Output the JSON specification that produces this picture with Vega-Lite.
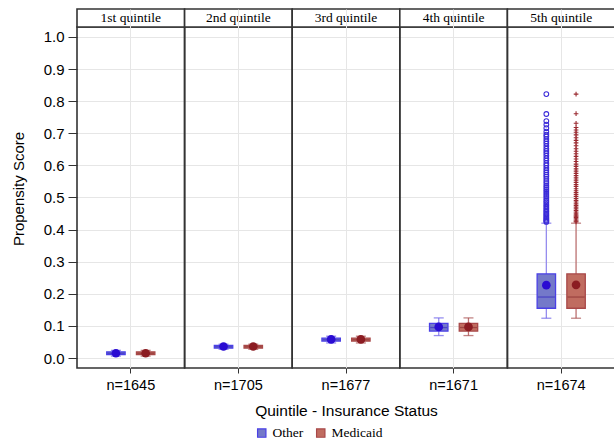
{
  "$schema": "https://vega.github.io/schema/vega-lite/v6.json",
  "width": 538,
  "height": 359,
  "autosize": {"type": "none"},
  "padding": {"left": 77, "top": 9, "right": 0, "bottom": 71},
  "background": "white",
  "config": {
    "view": {"stroke": null},
    "axis": {"labelFont": "Liberation Sans", "titleFont": "Liberation Sans", "labelColor": "#000", "titleColor": "#000", "titleFontWeight": "normal"},
    "axisY": {"title": "Propensity Score", "titleFontSize": 15, "titlePadding": 17, "values": [0, 0.1, 0.2, 0.3, 0.4, 0.5, 0.6, 0.7, 0.8, 0.9, 1.0], "format": ".1f", "labelFontSize": 15, "labelPadding": 4, "tickSize": 9, "tickColor": "#333", "domain": false, "grid": true, "gridColor": "#e6e6e6"},
    "legend": {"labelFont": "Liberation Serif", "labelFontSize": 13.5, "labelColor": "#000"}
  },
  "datasets": {
    "panels": [
      {"panel": "n=1645", "quintile": "1st quintile"},
      {"panel": "n=1705", "quintile": "2nd quintile"},
      {"panel": "n=1677", "quintile": "3rd quintile"},
      {"panel": "n=1671", "quintile": "4th quintile"},
      {"panel": "n=1674", "quintile": "5th quintile"}
    ],
    "boxes": [
      {"panel": "n=1645", "group": "Other", "lower": 0.006, "q1": 0.011, "median": 0.015, "q3": 0.019, "upper": 0.024, "mean": 0.015},
      {"panel": "n=1645", "group": "Medicaid", "lower": 0.006, "q1": 0.011, "median": 0.015, "q3": 0.019, "upper": 0.024, "mean": 0.015},
      {"panel": "n=1705", "group": "Other", "lower": 0.027, "q1": 0.031, "median": 0.035, "q3": 0.039, "upper": 0.043, "mean": 0.036},
      {"panel": "n=1705", "group": "Medicaid", "lower": 0.027, "q1": 0.031, "median": 0.035, "q3": 0.039, "upper": 0.043, "mean": 0.036},
      {"panel": "n=1677", "group": "Other", "lower": 0.047, "q1": 0.053, "median": 0.057, "q3": 0.062, "upper": 0.068, "mean": 0.058},
      {"panel": "n=1677", "group": "Medicaid", "lower": 0.047, "q1": 0.053, "median": 0.057, "q3": 0.062, "upper": 0.068, "mean": 0.058},
      {"panel": "n=1671", "group": "Other", "lower": 0.07, "q1": 0.084, "median": 0.095, "q3": 0.108, "upper": 0.125, "mean": 0.097},
      {"panel": "n=1671", "group": "Medicaid", "lower": 0.07, "q1": 0.084, "median": 0.095, "q3": 0.108, "upper": 0.125, "mean": 0.097},
      {"panel": "n=1674", "group": "Other", "lower": 0.124, "q1": 0.155, "median": 0.19, "q3": 0.262, "upper": 0.42, "mean": 0.227},
      {"panel": "n=1674", "group": "Medicaid", "lower": 0.124, "q1": 0.155, "median": 0.19, "q3": 0.262, "upper": 0.42, "mean": 0.228}
    ],
    "outliers": [
      {"panel": "n=1674", "group": "Other", "value": 0.822},
      {"panel": "n=1674", "group": "Other", "value": 0.760},
      {"panel": "n=1674", "group": "Other", "value": 0.738},
      {"panel": "n=1674", "group": "Other", "value": 0.727},
      {"panel": "n=1674", "group": "Other", "value": 0.716},
      {"panel": "n=1674", "group": "Other", "value": 0.705},
      {"panel": "n=1674", "group": "Other", "value": 0.696},
      {"panel": "n=1674", "group": "Other", "value": 0.690},
      {"panel": "n=1674", "group": "Other", "value": 0.682},
      {"panel": "n=1674", "group": "Other", "value": 0.675},
      {"panel": "n=1674", "group": "Other", "value": 0.668},
      {"panel": "n=1674", "group": "Other", "value": 0.660},
      {"panel": "n=1674", "group": "Other", "value": 0.652},
      {"panel": "n=1674", "group": "Other", "value": 0.645},
      {"panel": "n=1674", "group": "Other", "value": 0.638},
      {"panel": "n=1674", "group": "Other", "value": 0.630},
      {"panel": "n=1674", "group": "Other", "value": 0.622},
      {"panel": "n=1674", "group": "Other", "value": 0.615},
      {"panel": "n=1674", "group": "Other", "value": 0.607},
      {"panel": "n=1674", "group": "Other", "value": 0.600},
      {"panel": "n=1674", "group": "Other", "value": 0.592},
      {"panel": "n=1674", "group": "Other", "value": 0.585},
      {"panel": "n=1674", "group": "Other", "value": 0.578},
      {"panel": "n=1674", "group": "Other", "value": 0.571},
      {"panel": "n=1674", "group": "Other", "value": 0.565},
      {"panel": "n=1674", "group": "Other", "value": 0.558},
      {"panel": "n=1674", "group": "Other", "value": 0.551},
      {"panel": "n=1674", "group": "Other", "value": 0.545},
      {"panel": "n=1674", "group": "Other", "value": 0.538},
      {"panel": "n=1674", "group": "Other", "value": 0.532},
      {"panel": "n=1674", "group": "Other", "value": 0.526},
      {"panel": "n=1674", "group": "Other", "value": 0.520},
      {"panel": "n=1674", "group": "Other", "value": 0.514},
      {"panel": "n=1674", "group": "Other", "value": 0.508},
      {"panel": "n=1674", "group": "Other", "value": 0.502},
      {"panel": "n=1674", "group": "Other", "value": 0.496},
      {"panel": "n=1674", "group": "Other", "value": 0.490},
      {"panel": "n=1674", "group": "Other", "value": 0.485},
      {"panel": "n=1674", "group": "Other", "value": 0.479},
      {"panel": "n=1674", "group": "Other", "value": 0.474},
      {"panel": "n=1674", "group": "Other", "value": 0.469},
      {"panel": "n=1674", "group": "Other", "value": 0.464},
      {"panel": "n=1674", "group": "Other", "value": 0.459},
      {"panel": "n=1674", "group": "Other", "value": 0.455},
      {"panel": "n=1674", "group": "Other", "value": 0.450},
      {"panel": "n=1674", "group": "Other", "value": 0.446},
      {"panel": "n=1674", "group": "Other", "value": 0.442},
      {"panel": "n=1674", "group": "Other", "value": 0.438},
      {"panel": "n=1674", "group": "Other", "value": 0.434},
      {"panel": "n=1674", "group": "Other", "value": 0.430},
      {"panel": "n=1674", "group": "Other", "value": 0.427},
      {"panel": "n=1674", "group": "Other", "value": 0.424},
      {"panel": "n=1674", "group": "Medicaid", "value": 0.822},
      {"panel": "n=1674", "group": "Medicaid", "value": 0.761},
      {"panel": "n=1674", "group": "Medicaid", "value": 0.731},
      {"panel": "n=1674", "group": "Medicaid", "value": 0.718},
      {"panel": "n=1674", "group": "Medicaid", "value": 0.710},
      {"panel": "n=1674", "group": "Medicaid", "value": 0.703},
      {"panel": "n=1674", "group": "Medicaid", "value": 0.695},
      {"panel": "n=1674", "group": "Medicaid", "value": 0.686},
      {"panel": "n=1674", "group": "Medicaid", "value": 0.678},
      {"panel": "n=1674", "group": "Medicaid", "value": 0.670},
      {"panel": "n=1674", "group": "Medicaid", "value": 0.661},
      {"panel": "n=1674", "group": "Medicaid", "value": 0.652},
      {"panel": "n=1674", "group": "Medicaid", "value": 0.644},
      {"panel": "n=1674", "group": "Medicaid", "value": 0.636},
      {"panel": "n=1674", "group": "Medicaid", "value": 0.628},
      {"panel": "n=1674", "group": "Medicaid", "value": 0.620},
      {"panel": "n=1674", "group": "Medicaid", "value": 0.612},
      {"panel": "n=1674", "group": "Medicaid", "value": 0.604},
      {"panel": "n=1674", "group": "Medicaid", "value": 0.597},
      {"panel": "n=1674", "group": "Medicaid", "value": 0.589},
      {"panel": "n=1674", "group": "Medicaid", "value": 0.582},
      {"panel": "n=1674", "group": "Medicaid", "value": 0.575},
      {"panel": "n=1674", "group": "Medicaid", "value": 0.568},
      {"panel": "n=1674", "group": "Medicaid", "value": 0.561},
      {"panel": "n=1674", "group": "Medicaid", "value": 0.554},
      {"panel": "n=1674", "group": "Medicaid", "value": 0.547},
      {"panel": "n=1674", "group": "Medicaid", "value": 0.540},
      {"panel": "n=1674", "group": "Medicaid", "value": 0.534},
      {"panel": "n=1674", "group": "Medicaid", "value": 0.527},
      {"panel": "n=1674", "group": "Medicaid", "value": 0.521},
      {"panel": "n=1674", "group": "Medicaid", "value": 0.515},
      {"panel": "n=1674", "group": "Medicaid", "value": 0.509},
      {"panel": "n=1674", "group": "Medicaid", "value": 0.503},
      {"panel": "n=1674", "group": "Medicaid", "value": 0.497},
      {"panel": "n=1674", "group": "Medicaid", "value": 0.491},
      {"panel": "n=1674", "group": "Medicaid", "value": 0.486},
      {"panel": "n=1674", "group": "Medicaid", "value": 0.480},
      {"panel": "n=1674", "group": "Medicaid", "value": 0.475},
      {"panel": "n=1674", "group": "Medicaid", "value": 0.470},
      {"panel": "n=1674", "group": "Medicaid", "value": 0.465},
      {"panel": "n=1674", "group": "Medicaid", "value": 0.460},
      {"panel": "n=1674", "group": "Medicaid", "value": 0.455},
      {"panel": "n=1674", "group": "Medicaid", "value": 0.451},
      {"panel": "n=1674", "group": "Medicaid", "value": 0.446},
      {"panel": "n=1674", "group": "Medicaid", "value": 0.442},
      {"panel": "n=1674", "group": "Medicaid", "value": 0.438},
      {"panel": "n=1674", "group": "Medicaid", "value": 0.434},
      {"panel": "n=1674", "group": "Medicaid", "value": 0.430},
      {"panel": "n=1674", "group": "Medicaid", "value": 0.427},
      {"panel": "n=1674", "group": "Medicaid", "value": 0.424}
    ]
  },
  "encoding": {
    "x": {
      "field": "panel", "type": "nominal",
      "sort": ["n=1645", "n=1705", "n=1677", "n=1671", "n=1674"],
      "scale": {"domain": ["n=1645", "n=1705", "n=1677", "n=1671", "n=1674"], "paddingInner": 0, "paddingOuter": 0},
      "axis": {
        "title": "Quintile - Insurance Status", "titleFontSize": 15.5, "titlePadding": 12,
        "labelAngle": 0, "labelFontSize": 14.5, "labelPadding": 5,
        "domain": false, "ticks": true, "tickSize": 5, "tickColor": "#333",
        "grid": true, "gridColor": "#e6e6e6", "gridWidth": 1
      }
    }
  },
  "layer": [
    {
      "data": {"name": "panels"},
      "mark": {"type": "rect", "fill": null, "stroke": "#333", "strokeWidth": 1.6},
      "encoding": {
        "y": {"datum": -0.031, "type": "quantitative", "scale": {"domain": [-0.031, 1.087], "nice": false, "zero": false}, "title": "Propensity Score"},
        "y2": {"datum": 1.031}
      }
    },
    {
      "data": {"name": "panels"},
      "mark": {"type": "rect", "fill": "white", "stroke": "#333", "strokeWidth": 1.6},
      "encoding": {
        "y": {"datum": 1.031, "type": "quantitative", "title": "Propensity Score"},
        "y2": {"datum": 1.087}
      }
    },
    {
      "data": {"name": "panels"},
      "mark": {"type": "text", "font": "Liberation Serif", "fontSize": 13.5, "fontWeight": "normal", "color": "#000", "baseline": "middle"},
      "encoding": {
        "y": {"datum": 1.059, "type": "quantitative", "title": "Propensity Score"},
        "text": {"field": "quintile"}
      }
    },
    {
      "data": {"name": "boxes"},
      "mark": {"type": "rule", "strokeWidth": 1.3},
      "encoding": {
        "xOffset": {"field": "group", "type": "nominal", "scale": {"domain": ["Other", "Medicaid"], "paddingInner": 0.38, "paddingOuter": 1.146}},
        "y": {"field": "lower", "type": "quantitative", "title": "Propensity Score"},
        "y2": {"field": "upper"},
        "color": {"field": "group", "type": "nominal", "scale": {"domain": ["Other", "Medicaid"], "range": ["#958cee", "#bb7070"]}, "legend": null}
      }
    },
    {
      "data": {"name": "boxes"},
      "mark": {"type": "tick", "size": 10, "thickness": 1.3},
      "encoding": {
        "xOffset": {"field": "group", "type": "nominal"},
        "y": {"field": "lower", "type": "quantitative", "title": "Propensity Score"},
        "color": {"field": "group", "type": "nominal", "scale": {"domain": ["Other", "Medicaid"], "range": ["#6b60e8", "#a85050"]}, "legend": null}
      }
    },
    {
      "data": {"name": "boxes"},
      "mark": {"type": "tick", "size": 10, "thickness": 1.3},
      "encoding": {
        "xOffset": {"field": "group", "type": "nominal"},
        "y": {"field": "upper", "type": "quantitative", "title": "Propensity Score"},
        "color": {"field": "group", "type": "nominal", "scale": {"domain": ["Other", "Medicaid"], "range": ["#6b60e8", "#a85050"]}, "legend": null}
      }
    },
    {
      "data": {"name": "boxes"},
      "mark": {"type": "bar", "strokeWidth": 1.3},
      "encoding": {
        "xOffset": {"field": "group", "type": "nominal"},
        "y": {"field": "q1", "type": "quantitative", "title": "Propensity Score"},
        "y2": {"field": "q3"},
        "fill": {"field": "group", "type": "nominal", "scale": {"domain": ["Other", "Medicaid"], "range": ["#7479c9", "#c06c60"]},
          "legend": {"title": null, "orient": "none", "legendX": 178, "legendY": 417, "direction": "horizontal", "symbolType": "square", "symbolSize": 70, "symbolStrokeWidth": 1.2, "columnPadding": 10, "labelOffset": 4, "padding": 0}},
        "stroke": {"field": "group", "type": "nominal", "scale": {"domain": ["Other", "Medicaid"], "range": ["#4a40e6", "#a84848"]},
          "legend": {"title": null, "orient": "none", "legendX": 178, "legendY": 417, "direction": "horizontal", "symbolType": "square", "symbolSize": 70, "symbolStrokeWidth": 1.2, "columnPadding": 10, "labelOffset": 4, "padding": 0}}
      }
    },
    {
      "data": {"name": "boxes"},
      "mark": {"type": "tick", "size": 17, "thickness": 1.3},
      "encoding": {
        "xOffset": {"field": "group", "type": "nominal"},
        "y": {"field": "median", "type": "quantitative", "title": "Propensity Score"},
        "color": {"field": "group", "type": "nominal", "scale": {"domain": ["Other", "Medicaid"], "range": ["#3a30c0", "#8f3535"]}, "legend": null}
      }
    },
    {
      "data": {"name": "boxes"},
      "mark": {"type": "point", "filled": true, "shape": "circle", "size": 75, "opacity": 1},
      "encoding": {
        "xOffset": {"field": "group", "type": "nominal"},
        "y": {"field": "mean", "type": "quantitative", "title": "Propensity Score"},
        "color": {"field": "group", "type": "nominal", "scale": {"domain": ["Other", "Medicaid"], "range": ["#2a0cd2", "#8b1c22"]}, "legend": null}
      }
    },
    {
      "data": {"name": "outliers"},
      "mark": {"type": "point", "filled": false, "size": 22, "strokeWidth": 1.1, "opacity": 1},
      "encoding": {
        "xOffset": {"field": "group", "type": "nominal"},
        "y": {"field": "value", "type": "quantitative", "title": "Propensity Score"},
        "shape": {"field": "group", "type": "nominal", "scale": {"domain": ["Other", "Medicaid"], "range": ["circle", "M-1,0H1M0,-1V1"]}, "legend": null},
        "color": {"field": "group", "type": "nominal", "scale": {"domain": ["Other", "Medicaid"], "range": ["#3a2ad8", "#9a2a30"]}, "legend": null}
      }
    }
  ],
  "resolve": {"scale": {"color": "independent", "shape": "independent"}}
}
